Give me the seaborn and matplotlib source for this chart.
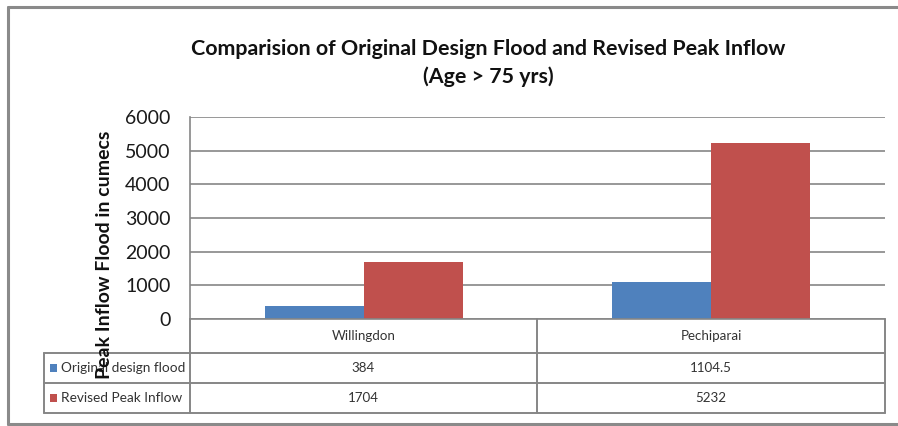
import matplotlib
matplotlib.use('Agg')
import matplotlib.pyplot as plt
import seaborn as sns
import pandas as pd

dams = ['Willingdon', 'Pechiparai']
series = ['Original design flood', 'Revised Peak Inflow']
original = [384, 1104.5]
revised = [1704, 5232]
value_labels = [['384', '1104.5'], ['1704', '5232']]
yticks = [0, 1000, 2000, 3000, 4000, 5000, 6000]

colors = ['#4F81BD', '#C0504D']
line_col = '#868686'

sns.set_theme(style='white')
plt.rcParams['font.family'] = ['Lato', 'DejaVu Sans']

df = pd.DataFrame({
    'dam': dams * 2,
    'series': [series[0]] * 2 + [series[1]] * 2,
    'value': original + revised,
})

W, H = 898, 426
fig = plt.figure(figsize=(W / 100, H / 100), dpi=100)
ax = fig.add_axes([190 / W, 1 - 319 / H, 695 / W, 202 / H])

sns.barplot(data=df, x='dam', y='value', hue='series', palette=colors,
            width=0.57, saturation=1, errorbar=None, legend=False,
            linewidth=0, edgecolor='none', ax=ax)

ax.set_xlim(-0.5, 1.5)
ax.set_ylim(0, 6000)
ax.set_yticks(yticks)
ax.set_xticks([])
ax.set_xlabel('')
ax.set_ylabel('')
ax.grid(axis='y', color=line_col, lw=1.2)
ax.set_axisbelow(True)
for s in ['top', 'right']:
    ax.spines[s].set_visible(False)
for s in ['left', 'bottom']:
    ax.spines[s].set_color(line_col)
    ax.spines[s].set_linewidth(1.2)
ax.tick_params(axis='y', length=0, pad=14, labelsize=14, labelcolor='#1a1a1a')

fig.text(488 / W, 1 - 63 / H,
         'Comparision of Original Design Flood and Revised Peak Inflow\n(Age > 75 yrs)',
         ha='center', va='center', fontsize=15.4, fontweight='bold',
         linespacing=1.5, color='#111111')

# overlay in pixel coordinates for the data table and frame
fax = fig.add_axes([0, 0, 1, 1])
fax.set_xlim(0, W)
fax.set_ylim(H, 0)
fax.axis('off')
fax.patch.set_alpha(0)

kw = dict(color=line_col, lw=1.4)
# outer frame
fax.plot([8, W], [7, 7], color='#8a8a8a', lw=2.2)
fax.plot([8, 8], [7, 424], color='#8a8a8a', lw=2.2)
fax.plot([8, W], [424, 424], color='#8a8a8a', lw=2.2)

# table grid
cols = [190, 537, 885]
for x in cols:
    fax.plot([x, x], [319, 413], **kw)
fax.plot([44, 44], [353, 413], **kw)
for y in [353, 383, 413]:
    fax.plot([44, 885], [y, y], **kw)

centers = [(cols[0] + cols[1]) / 2, (cols[1] + cols[2]) / 2]
tcol = '#333333'
for c, name in zip(centers, dams):
    fax.text(c, 336, name, ha='center', va='center', fontsize=9.6, color=tcol)

row_y = [368, 398]
for i, (lab, y) in enumerate(zip(series, row_y)):
    fax.add_patch(plt.Rectangle((50, y - 4), 7, 8, color=colors[i], lw=0))
    fax.text(61, y, lab, ha='left', va='center', fontsize=9.8, color=tcol)
    for c, v in zip(centers, value_labels[i]):
        fax.text(c, y, v, ha='center', va='center', fontsize=9.6, color=tcol)

fax.text(104, 255, 'Peak Inflow Flood in cumecs', rotation=90, ha='center',
         va='center', fontsize=14, fontweight='bold', color='#111111')

fig.savefig('out.png', dpi=100)
